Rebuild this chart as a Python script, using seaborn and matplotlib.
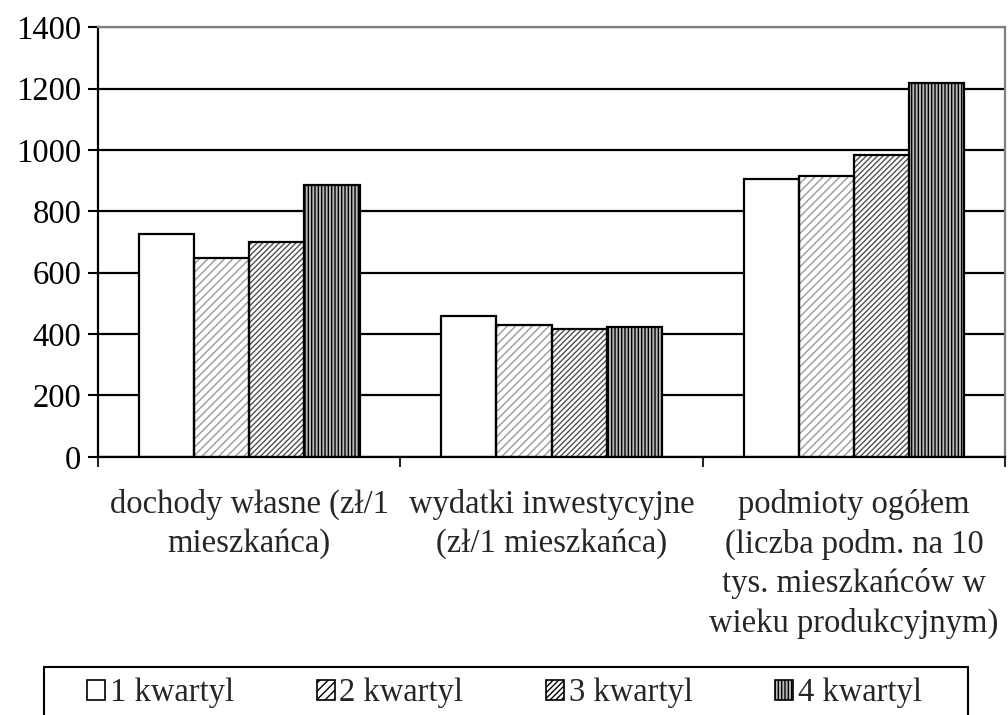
import matplotlib
matplotlib.use('Agg')
import matplotlib.pyplot as plt
import matplotlib.patches as mpatches
import seaborn as sns
import pandas as pd

categories = ["dochody własne (zł/1\nmieszkańca)",
              "wydatki inwestycyjne\n(zł/1 mieszkańca)",
              "podmioty ogółem\n(liczba podm. na 10\ntys. mieszkańców w\nwieku produkcyjnym)"]
quartiles = ["1 kwartyl", "2 kwartyl", "3 kwartyl", "4 kwartyl"]
q1 = [725, 459, 905]
q2 = [649, 431, 916]
q3 = [701, 418, 984]
q4 = [886, 422, 1217]
yticks = [0, 200, 400, 600, 800, 1000, 1200, 1400]

rows = []
for kw, vals in zip(quartiles, [q1, q2, q3, q4]):
    for cat, v in zip(categories, vals):
        rows.append({"kategoria": cat, "kwartyl": kw, "wartosc": v})
df = pd.DataFrame(rows)

# styl wypelnienia dla kazdego kwartyla: (tlo, kreskowanie, kolor kreskowania)
styles = [("white", None, "black"),
          ("white", "////", "#9a9a9a"),
          ("white", "//////", "#505050"),
          ("#b8b8b8", "|||||", "black")]

sns.set_style("white")
plt.rcParams['font.family'] = ['Liberation Serif', 'DejaVu Serif']
plt.rcParams['hatch.linewidth'] = 1.0

fig = plt.figure(figsize=(10.08, 7.15), dpi=100)
ax = fig.add_axes([0.0972, 0.361, 0.9, 0.601])

sns.barplot(data=df, x="kategoria", y="wartosc", hue="kwartyl",
            palette=["white"] * 4, saturation=1, width=0.73,
            legend=False, ax=ax)

for cont, (face, hatch, hcol) in zip(ax.containers, styles):
    for p in cont:
        p.set_facecolor(face)
        p.set_edgecolor(hcol)
        p.set_linewidth(0)
        if hatch:
            p.set_hatch(hatch)
        outline = mpatches.Rectangle(p.get_xy(), p.get_width(), p.get_height(),
                                     fill=False, edgecolor="black", linewidth=1.6,
                                     zorder=p.get_zorder() + 0.1)
        ax.add_patch(outline)

ax.set_ylim(0, 1400)
ax.set_yticks(yticks)
ax.set_xlim(-0.5, 2.5)
ax.set_xlabel("")
ax.set_ylabel("")

ax.yaxis.grid(True, color="black", linewidth=1.6)
ax.set_axisbelow(True)

ax.tick_params(axis="y", direction="out", length=7, width=1.5, labelsize=23.5,
               pad=5, left=True, colors="black")
ax.tick_params(axis="x", which="major", length=0, labelsize=23.5, pad=23)
for lab in ax.get_xticklabels():
    lab.set_linespacing(1.36)
ax.set_xticks([-0.5, 0.5, 1.5, 2.5], minor=True)
ax.tick_params(axis="x", which="minor", direction="out", length=7, width=1.5,
               bottom=True)

for side in ["left", "bottom"]:
    ax.spines[side].set_color("black")
    ax.spines[side].set_linewidth(1.6)
for side in ["top", "right"]:
    ax.spines[side].set_color("#808080")
    ax.spines[side].set_linewidth(1.6)

# ramka legendy rysowana osobno, jak w oryginale (dol ucięty)
frame = mpatches.Rectangle((44 / 1008, -0.02), 924 / 1008, 0.02 + 1 - 667 / 715,
                           transform=fig.transFigure, fill=False,
                           edgecolor="black", linewidth=1.5)
fig.patches.append(frame)

handles = [mpatches.Patch(facecolor=face, hatch=hatch, edgecolor="black",
                          linewidth=1.2, label=kw)
           for (face, hatch, hcol), kw in zip(styles, quartiles)]
leg = fig.legend(handles=handles, loc="center left",
                 bbox_to_anchor=(87 / 1008, 1 - 693 / 715),
                 ncol=4, frameon=False, fontsize=23.5, handlelength=0.55,
                 handleheight=0.55, handletextpad=0.15, columnspacing=2.53,
                 borderpad=0, borderaxespad=0)

fig.savefig("out.png", dpi=100)
